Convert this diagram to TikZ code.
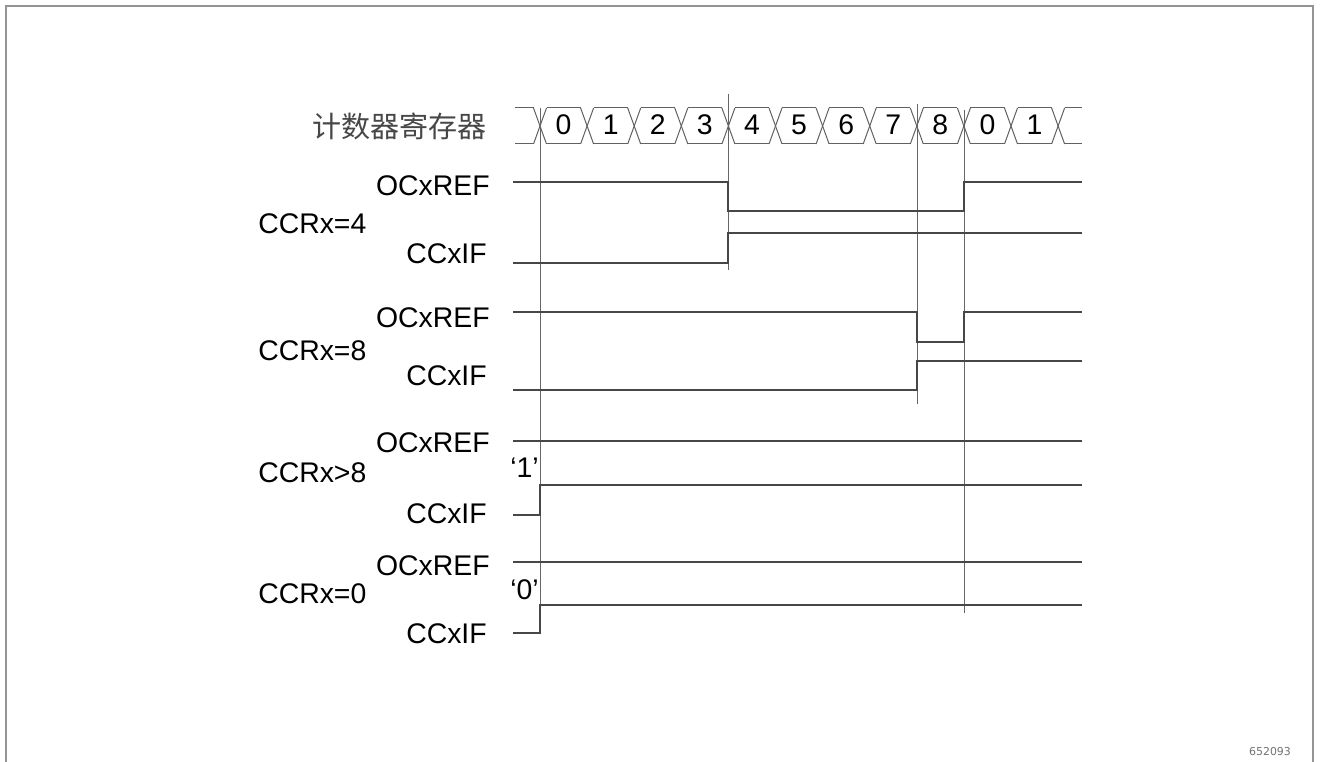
\documentclass[tikz,border=0pt]{standalone}
\usepackage{fontspec}
\setmainfont{Liberation Sans}
\newfontfamily\cjk{Noto Sans CJK SC}
\newfontfamily\footfont{DejaVu Sans}
\begin{document}
\begin{tikzpicture}[x=0.75pt,y=-0.75pt,
  lbl/.style={inner sep=0pt,font=\fontsize{21.3}{24}\selectfont,text=black},
  wave/.style={draw=black!72,line width=0.8pt},
  bus/.style={draw=black!62,line width=0.75pt},
  vline/.style={draw=black!60,line width=0.75pt},
  frame/.style={draw=black!42,line width=1.4pt}]
\useasboundingbox (0,0) rectangle (1320,762);
\fill[white] (0,0) rectangle (1320,762);
% frame
\draw[frame] (6,762) -- (6,6) -- (1313,6) -- (1313,762);
% footer
\node[inner sep=0pt,font=\footfont\fontsize{8.2}{10}\selectfont,text=black!55] (foot) at (1270,752) {652093};
% title
\node[inner sep=0pt,anchor=east,font=\cjk\fontsize{21.8}{24}\selectfont,text=black!72] (title) at (487,126) {计数器寄存器};
% counter bus
\def\ya{108}\def\yb{144}\def\hw{6.5}
\draw[bus] (515,\ya) -- (533.5,\ya);
\draw[bus] (515,\yb) -- (533.5,\yb);
\foreach \i in {0,...,11}{
  \pgfmathsetmacro\cx{540+47.1*\i}
  \draw[bus] (\cx-\hw,\ya) -- (\cx+\hw,\yb);
  \draw[bus] (\cx-\hw,\yb) -- (\cx+\hw,\ya);
}
\foreach \i in {0,...,10}{
  \pgfmathsetmacro\cx{540+47.1*\i}
  \pgfmathsetmacro\cn{540+47.1*(\i+1)}
  \draw[bus] (\cx+\hw,\ya) -- (\cn-\hw,\ya);
  \draw[bus] (\cx+\hw,\yb) -- (\cn-\hw,\yb);
}
\draw[bus] (1058.1+\hw,\ya) -- (1082,\ya);
\draw[bus] (1058.1+\hw,\yb) -- (1082,\yb);
\foreach \d [count=\k from 0] in {0,1,2,3,4,5,6,7,8,0,1}{
  \pgfmathsetmacro\cx{540+47.1*\k+23.55}
  \node[lbl,anchor=base] (d\k) at (\cx,135) {\d};
}
% vertical reference lines
\draw[vline] (540,108) -- (540,634);
\draw[vline] (728,94) -- (728,270);
\draw[vline] (917,104) -- (917,404);
\draw[vline] (964,110) -- (964,613);
% row CCRx=4
\node[lbl,anchor=base east] (r1a) at (490,196) {OCxREF};
\node[lbl,anchor=base west] (r1b) at (258,234) {CCRx=4};
\node[lbl,anchor=base east] (r1c) at (487,264) {CCxIF};
\draw[wave] (513,182) -- (728,182) -- (728,211) -- (964,211) -- (964,182) -- (1082,182);
\draw[wave] (513,263) -- (728,263) -- (728,233) -- (1082,233);
% row CCRx=8
\node[lbl,anchor=base east] (r2a) at (490,328) {OCxREF};
\node[lbl,anchor=base west] (r2b) at (258,361) {CCRx=8};
\node[lbl,anchor=base east] (r2c) at (487,386) {CCxIF};
\draw[wave] (513,312) -- (917,312) -- (917,342) -- (964,342) -- (964,312) -- (1082,312);
\draw[wave] (513,390) -- (917,390) -- (917,361) -- (1082,361);
% row CCRx>8
\node[lbl,anchor=base east] (r3a) at (490,453) {OCxREF};
\node[lbl,anchor=base west] (r3b) at (258,483) {CCRx>8};
\node[lbl,anchor=base east] (r3c) at (487,523) {CCxIF};
\node[lbl,anchor=base west] (one) at (510,477) {‘1’};
\draw[wave] (513,441) -- (1082,441);
\draw[wave] (513,515) -- (540,515) -- (540,485) -- (1082,485);
% row CCRx=0
\node[lbl,anchor=base east] (r4a) at (490,575) {OCxREF};
\node[lbl,anchor=base west] (r4b) at (258,603) {CCRx=0};
\node[lbl,anchor=base east] (r4c) at (487,643) {CCxIF};
\node[lbl,anchor=base west] (zero) at (510,599) {‘0’};
\draw[wave] (513,562) -- (1082,562);
\draw[wave] (513,633) -- (540,633) -- (540,605) -- (1082,605);
\end{tikzpicture}
\end{document}
